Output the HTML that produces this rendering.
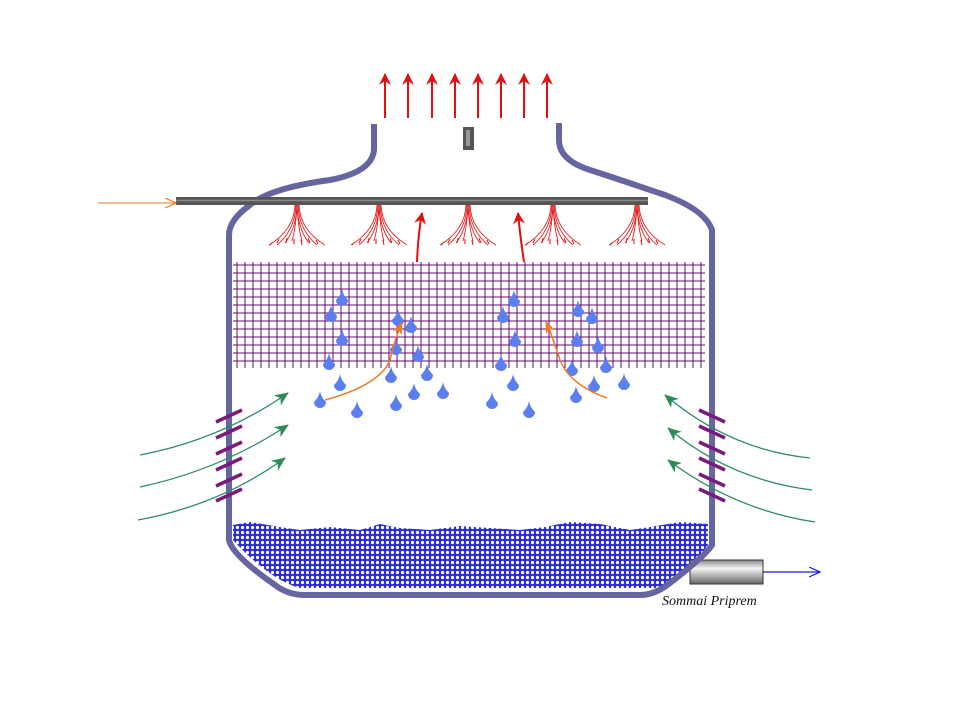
<!DOCTYPE html>
<html><head><meta charset="utf-8"><style>
html,body{margin:0;padding:0;background:#fff;}
svg{display:block;}
</style></head><body>
<svg width="960" height="720" viewBox="0 0 960 720" xmlns="http://www.w3.org/2000/svg">
<defs>
<pattern id="wp" width="5" height="5" patternUnits="userSpaceOnUse">
<rect width="5" height="5" fill="#2b2bd8"/>
<circle cx="2.5" cy="2.5" r="1.6" fill="#fff"/>
</pattern>
<marker id="red" markerWidth="14" markerHeight="14" refX="11" refY="6" orient="auto" markerUnits="userSpaceOnUse"><path d="M0,0 L12,6 L0,12 L4,6 Z" fill="#e01010"/></marker>
<marker id="grn" markerWidth="16" markerHeight="14" refX="13" refY="6" orient="auto" markerUnits="userSpaceOnUse"><path d="M0,0 L14,6 L0,12 L4,6 Z" fill="#2e8b57"/></marker>
<marker id="org" markerWidth="14" markerHeight="12" refX="11" refY="5" orient="auto" markerUnits="userSpaceOnUse"><path d="M0,0 L12,5 L0,10 L3,5 Z" fill="#f07820"/></marker>
<marker id="blu" markerWidth="12" markerHeight="12" refX="11" refY="5" orient="auto" markerUnits="userSpaceOnUse"><path d="M0,0 L11,5 L0,10" fill="none" stroke="#1a1adf" stroke-width="1.2"/></marker>
<marker id="oth" markerWidth="12" markerHeight="12" refX="11" refY="5" orient="auto" markerUnits="userSpaceOnUse"><path d="M0,0 L11,5 L0,10" fill="none" stroke="#f07820" stroke-width="1.2"/></marker>
<g id="fan" fill="none" stroke="#e02020" stroke-width="0.9">
<path d="M-2 0 Q-3 25 -28 40"/><path d="M-1 0 Q-2 25 -20 40"/><path d="M0 0 Q-1 24 -12 38"/><path d="M0 0 Q-1 22 -5 36"/>
<path d="M2 0 Q3 25 28 40"/><path d="M1 0 Q2 25 20 40"/><path d="M0 0 Q1 24 12 38"/><path d="M0 0 Q1 22 5 36"/>
<path d="M-18 34 l-2 4 M-10 33 l-1 5 M-3 34 l0 5 M4 35 l1 5 M11 33 l2 5 M19 35 l2 4 M-24 37 l-3 3" stroke-width="1.1"/>
</g>
<path id="drop" d="M0 -11 Q1 -5 6 0 A6 6 0 1 1 -6 0 Q-1 -5 0 -11 Z" fill="#5b7ff0"/>
<linearGradient id="pg" x1="0" y1="0" x2="0" y2="1"><stop offset="0" stop-color="#888"/><stop offset="0.35" stop-color="#f4f4f4"/><stop offset="1" stop-color="#666"/></linearGradient>
</defs>

<g stroke="#e01010" stroke-width="2" marker-end="url(#red)">
<line x1="385" y1="118" x2="385" y2="74"/><line x1="408" y1="118" x2="408" y2="74"/>
<line x1="432" y1="118" x2="432" y2="74"/><line x1="455" y1="118" x2="455" y2="74"/>
<line x1="478" y1="118" x2="478" y2="74"/><line x1="501" y1="118" x2="501" y2="74"/>
<line x1="524" y1="118" x2="524" y2="74"/><line x1="547" y1="118" x2="547" y2="74"/>
</g>
<rect x="463" y="127" width="11" height="23" fill="#555"/>
<rect x="466" y="130" width="4" height="16" fill="#999"/>

<path d="M233 525 L250 522 L280 527 L300 530 L330 527 L360 530 L380 524 L400 528 L430 530 L460 526 L490 528 L520 530 L545 527 L570 522 L600 524 L630 530 L650 527 L680 522 L708 524 L708 545 Q690 570 660 588 L300 588 Q270 580 233 540 Z" fill="url(#wp)"/>

<rect x="690" y="560" width="73" height="24" fill="url(#pg)" stroke="#333" stroke-width="1"/>
<line x1="763" y1="572" x2="820" y2="572" stroke="#1a1adf" stroke-width="1.2" marker-end="url(#blu)"/>

<path d="M374 124 L374 150 Q372 172 330 180 Q270 188 250 205 Q229 220 229 235 L229 540 Q232 555 275 585 Q288 595 305 595 L640 595 Q655 595 670 583 Q705 556 712 545 L712 230 Q705 210 665 195 Q615 178 590 170 Q559 160 559 140 L559 123" fill="none" stroke="#6565a0" stroke-width="6"/>

<g stroke="#6a0a70" stroke-width="1">
<path d="M233 265 H705 M233 273 H705 M233 281 H705 M233 289 H705 M233 297 H705 M233 305 H705 M233 313 H705 M233 321 H705 M233 329 H705 M233 337 H705 M233 345 H705 M233 353 H705 M233 361 H705"/>
<path d="M237 262V368M245 262V368M253 262V368M261 262V368M269 262V368M277 262V368M285 262V368M293 262V368M301 262V368M309 262V368M317 262V368M325 262V368M333 262V368M341 262V368M349 262V368M357 262V368M365 262V368M373 262V368M381 262V368M389 262V368M397 262V368M405 262V368M413 262V368M421 262V368M429 262V368M437 262V368M445 262V368M453 262V368M461 262V368M469 262V368M477 262V368M485 262V368M493 262V368M501 262V368M509 262V368M517 262V368M525 262V368M533 262V368M541 262V368M549 262V368M557 262V368M565 262V368M573 262V368M581 262V368M589 262V368M597 262V368M605 262V368M613 262V368M621 262V368M629 262V368M637 262V368M645 262V368M653 262V368M661 262V368M669 262V368M677 262V368M685 262V368M693 262V368M701 262V368"/>
</g>

<rect x="176" y="197" width="472" height="8" fill="#555"/>
<line x1="176" y1="200.5" x2="648" y2="200.5" stroke="#8a8a8a" stroke-width="1.5"/>
<line x1="98" y1="203" x2="176" y2="203" stroke="#f07820" stroke-width="1" marker-end="url(#oth)"/>

<use href="#fan" x="297" y="205"/><use href="#fan" x="379" y="205"/><use href="#fan" x="468" y="205"/><use href="#fan" x="553" y="205"/><use href="#fan" x="637" y="205"/>
<path d="M417 262 Q418 235 422 213" fill="none" stroke="#e01010" stroke-width="2" marker-end="url(#red)"/>
<path d="M524 262 Q520 235 518 213" fill="none" stroke="#e01010" stroke-width="2" marker-end="url(#red)"/>

<g>
<use href="#drop" x="342" y="300"/><use href="#drop" x="331" y="316"/><use href="#drop" x="342" y="340"/><use href="#drop" x="329" y="364"/><use href="#drop" x="340" y="385"/><use href="#drop" x="320" y="402"/><use href="#drop" x="357" y="412"/>
<use href="#drop" x="398" y="320"/><use href="#drop" x="411" y="327"/><use href="#drop" x="396" y="349"/><use href="#drop" x="418" y="356"/><use href="#drop" x="391" y="377"/><use href="#drop" x="427" y="375"/><use href="#drop" x="414" y="394"/><use href="#drop" x="396" y="405"/><use href="#drop" x="443" y="393"/>
<use href="#drop" x="514" y="301"/><use href="#drop" x="503" y="317"/><use href="#drop" x="515" y="341"/><use href="#drop" x="501" y="365"/><use href="#drop" x="513" y="385"/><use href="#drop" x="492" y="403"/><use href="#drop" x="529" y="412"/>
<use href="#drop" x="578" y="311"/><use href="#drop" x="592" y="318"/><use href="#drop" x="577" y="341"/><use href="#drop" x="598" y="347"/><use href="#drop" x="606" y="367"/><use href="#drop" x="572" y="370"/><use href="#drop" x="594" y="386"/><use href="#drop" x="624" y="384"/><use href="#drop" x="576" y="397"/>
</g>

<path d="M325 400 Q380 385 390 360 Q396 335 402 323" fill="none" stroke="#f07820" stroke-width="1.5" marker-end="url(#org)"/>
<path d="M607 398 Q570 385 560 360 Q552 335 546 322" fill="none" stroke="#f07820" stroke-width="1.5" marker-end="url(#org)"/>

<g fill="none" stroke="#2e8b6a" stroke-width="1.3">
<path d="M140 455 Q220 440 288 393" marker-end="url(#grn)"/>
<path d="M140 487 Q220 470 288 425" marker-end="url(#grn)"/>
<path d="M138 520 Q220 505 285 458" marker-end="url(#grn)"/>
<path d="M810 458 Q730 450 665 395" marker-end="url(#grn)"/>
<path d="M812 490 Q730 480 668 428" marker-end="url(#grn)"/>
<path d="M815 522 Q735 510 668 460" marker-end="url(#grn)"/>
</g>

<g stroke="#7a1a80" stroke-width="3.5">
<path d="M216 422 L242 410 M216 438 L242 426 M216 454 L242 442 M216 470 L242 458 M216 486 L242 474 M216 501 L242 489"/>
<path d="M699 410 L725 422 M699 426 L725 438 M699 442 L725 454 M699 458 L725 470 M699 474 L725 486 M699 489 L725 501"/>
</g>

<text x="662" y="605" font-family="Liberation Serif, serif" font-style="italic" font-size="14" fill="#111">Sommai Priprem</text>
</svg>
</body></html>
